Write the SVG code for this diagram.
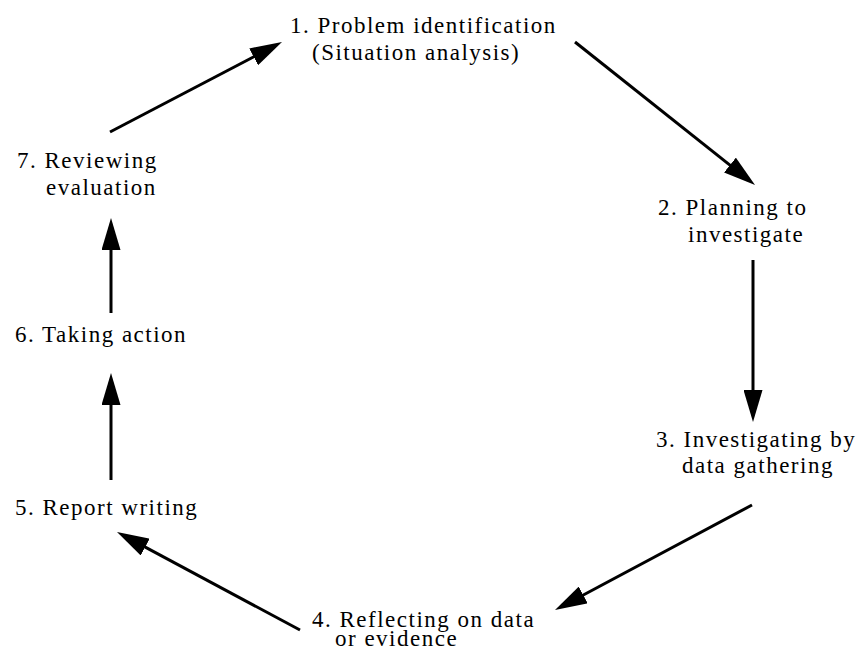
<svg xmlns="http://www.w3.org/2000/svg" width="858" height="648" viewBox="0 0 858 648">
<style>
text{font-family:"Liberation Serif","Times New Roman",serif;font-size:23px;fill:#000;letter-spacing:1.5px}
.c line{stroke:#000;stroke-width:3;marker-end:url(#ah)}
</style>
<defs>
<marker id="ah" viewBox="0 0 32 19" refX="10" refY="9.5" markerWidth="32" markerHeight="19" orient="auto" markerUnits="userSpaceOnUse">
<path d="M0,0 L32,9.5 L0,19 z" fill="#000"/>
</marker>
</defs>
<rect width="858" height="648" fill="#fff"/>
<g id="n1"><text x="290" y="33">1. Problem identification</text><text x="312" y="60">(Situation analysis)</text></g>
<g id="n2"><text x="658" y="215">2. Planning to</text><text x="688" y="242">investigate</text></g>
<g id="n3"><text x="656" y="447">3. Investigating by</text><text x="682" y="473">data gathering</text></g>
<g id="n4"><text x="312" y="627">4. Reflecting on data</text><text x="335" y="646">or evidence</text></g>
<g id="n5"><text x="15" y="515">5. Report writing</text></g>
<g id="n6"><text x="15" y="342">6. Taking action</text></g>
<g id="n7"><text x="17" y="168">7. Reviewing</text><text x="46" y="195">evaluation</text></g>
<g class="c" id="connectors">
<line x1="110" y1="132" x2="262.5" y2="52.2"/>
<line x1="575" y1="42" x2="737.8" y2="171.3"/>
<line x1="753" y1="260" x2="753" y2="400"/>
<line x1="752" y1="505" x2="574.4" y2="599.7"/>
<line x1="300" y1="630" x2="136.4" y2="542.4"/>
<line x1="111" y1="480" x2="111" y2="395"/>
<line x1="111" y1="313" x2="111" y2="240"/>
</g>
</svg>
